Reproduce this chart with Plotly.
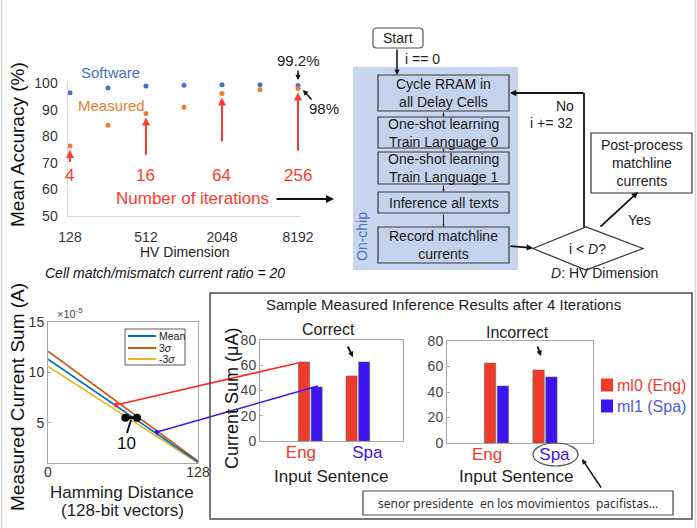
import numpy as np
import plotly.graph_objects as go

W, H = 697, 528
FONT = "Liberation Sans, Arial, sans-serif"

# ---- accuracy vs hypervector dimension ----
hv_dims = [128, 256, 512, 1024, 2048, 4096, 8192]
hv_ticks = [128, 512, 2048, 8192]
software_acc = [96.4, 98.2, 99.0, 99.3, 99.5, 99.5, 99.2]
measured_acc = [76.4, 84.2, 88.6, 91.0, 96.2, 97.6, 98.0]
iter_dims = [128, 512, 2048, 8192]
iter_counts = [4, 16, 64, 256]

# ---- matchline current sum vs Hamming distance ----
hamming = [0, 128]
curr_mean = [11.3, 1.1]
curr_p3s = [12.1, 1.2]
curr_m3s = [10.6, 1.0]
spread_x = [66, 76]
spread_y = [5.5, 5.5]

# ---- inference results after 4 iterations ----
sentences = ["Eng", "Spa"]
correct_ml0 = [62.6, 51.5]
correct_ml1 = [42.8, 62.6]
incorrect_ml0 = [62.7, 57.3]
incorrect_ml1 = [44.7, 51.8]

BLUE_PT = "#4472C4"
ORANGE_PT = "#ED7D31"
RED = "#F03A2A"
VIOLET = "#3D14F0"
ITER_RED = "#FF3B30"


def px(x):
    return x / W


def py(y):
    return 1 - y / H


shapes = []
anns = []


def text(x, y, s, size=14, color="#222", xanchor="center", family=FONT, **kw):
    anns.append(dict(x=px(x), y=py(y), xref="paper", yref="paper", text=s,
                     showarrow=False, xanchor=xanchor, yanchor="middle",
                     font=dict(size=size, color=color, family=family), **kw))


def arrow(x0, y0, x1, y1, color="#111", width=1.5, head=2, size=1.0):
    anns.append(dict(x=px(x1), y=py(y1), xref="paper", yref="paper",
                     ax=x0 - x1, ay=y0 - y1, text="", showarrow=True,
                     arrowhead=head, arrowsize=size, arrowwidth=width,
                     arrowcolor=color))


def line(x0, y0, x1, y1, color="#111", width=1.5):
    shapes.append(dict(type="line", xref="paper", yref="paper",
                       x0=px(x0), y0=py(y0), x1=px(x1), y1=py(y1),
                       line=dict(color=color, width=width)))


def rect(x0, y0, x1, y1, color="#333", width=1.2, fill="rgba(0,0,0,0)",
         layer="above"):
    shapes.append(dict(type="rect", xref="paper", yref="paper",
                       x0=px(x0), y0=py(y0), x1=px(x1), y1=py(y1),
                       line=dict(color=color, width=width), fillcolor=fill,
                       layer=layer))


def dot(x, y, r, color):
    shapes.append(dict(type="circle", xref="paper", yref="paper",
                       x0=px(x - r), y0=py(y + r), x1=px(x + r), y1=py(y - r),
                       line=dict(width=0), fillcolor=color))


def rounded_rect(x0, y0, x1, y1, r, color="#555", width=1.2):
    P = lambda x, y: f"{px(x):.5f},{py(y):.5f}"
    path = (f"M{P(x0 + r, y0)} L{P(x1 - r, y0)} Q{P(x1, y0)} {P(x1, y0 + r)} "
            f"L{P(x1, y1 - r)} Q{P(x1, y1)} {P(x1 - r, y1)} "
            f"L{P(x0 + r, y1)} Q{P(x0, y1)} {P(x0, y1 - r)} "
            f"L{P(x0, y0 + r)} Q{P(x0, y0)} {P(x0 + r, y0)} Z")
    shapes.append(dict(type="path", xref="paper", yref="paper", path=path,
                       line=dict(color=color, width=width),
                       fillcolor="white"))


fig = go.Figure()

# ---------------- top-left: mean accuracy ----------------
fig.add_trace(go.Scatter(x=hv_dims, y=software_acc, mode="markers",
                         marker=dict(color=BLUE_PT, size=5), cliponaxis=False,
                         xaxis="x", yaxis="y", showlegend=False))
fig.add_trace(go.Scatter(x=hv_dims, y=measured_acc, mode="markers",
                         marker=dict(color=ORANGE_PT, size=5), cliponaxis=False,
                         xaxis="x", yaxis="y", showlegend=False))

meas_at = dict(zip(hv_dims, measured_acc))
for d, tail in zip(iter_dims, [69.8, 72.5, 77.5, 74.0]):
    anns.append(dict(x=np.log10(d), y=meas_at[d], xref="x", yref="y",
                     axref="x", ayref="y", ax=np.log10(d), ay=tail, text="",
                     showarrow=True, arrowhead=2, arrowsize=0.8, arrowwidth=2,
                     arrowcolor=ITER_RED, standoff=4))
for d, n in zip(iter_dims, iter_counts):
    anns.append(dict(x=np.log10(d), y=py(175), xref="x", yref="paper",
                     text=str(n), showarrow=False, xanchor="center",
                     yanchor="middle",
                     font=dict(size=17, color=ITER_RED, family=FONT)))

text(192, 198, "Number of iterations", 17, ITER_RED)
arrow(275, 199, 334, 199, "#111", 2, 2, 0.8)
text(111, 72, "Software", 15, BLUE_PT)
text(112, 105, "Measured", 15, ORANGE_PT)
text(298, 60, "99.2%", 15, "#222")
arrow(298, 69, 298, 80, "#111", 1.5, 2, 0.7)
text(324, 109, "98%", 15, "#222")
arrow(313, 101, 303, 90, "#111", 1.5, 2, 0.7)
text(17, 145, "Mean Accuracy (%)", 19, "#111", textangle=-90)
text(184, 252, "HV Dimension", 14, "#222")

# ---------------- flowchart ----------------
rect(353, 67, 518, 270, color="rgba(0,0,0,0)", width=0, fill="#C7D6EE",
     layer="below")
rounded_rect(373, 28, 423, 48, 4)
text(398, 38, "Start", 14)
arrow(397, 48, 397, 75, "#111", 1.5, 2, 0.7)
text(422, 59, "i == 0", 14)

flow_boxes = [
    (75, 111, "Cycle RRAM in<br>all Delay Cells"),
    (117, 148, "One-shot learning<br>Train Language 0"),
    (152, 184, "One-shot learning<br>Train Language 1"),
    (192, 213, "Inference all texts"),
    (227, 263, "Record matchline<br>currents"),
]
for y0, y1, s in flow_boxes:
    rect(378, y0, 509, y1, color="#3A3A3A", width=1.2, fill="#C3D3EC")
    text(443.5, (y0 + y1) / 2, s, 14, "#1a1a1a")
for a, b in zip(flow_boxes[:-1], flow_boxes[1:]):
    arrow(443.5, a[1], 443.5, b[0], "#222", 1, 2, 0.5)
text(362, 237, "On-chip", 14, BLUE_PT, textangle=-90)

# decision diamond
D = dict(l=533, r=643, t=227, b=270, c=586)
shapes.append(dict(type="path", xref="paper", yref="paper",
                   path=(f"M{px(D['l'])},{py(248.5)} L{px(D['c'])},{py(D['t'])} "
                         f"L{px(D['r'])},{py(248.5)} L{px(D['c'])},{py(D['b'])} Z"),
                   line=dict(color="#333", width=1.2)))
text(587, 249, "i &lt; <i>D</i>?", 14)
arrow(509, 246, 533, 248, "#111", 1.8, 2, 0.7)
line(584, 227, 584, 93, "#111", 1.8)
arrow(585, 93, 510, 93, "#111", 1.8, 2, 0.7)
text(565, 106, "No", 14)
text(551, 123, "i += 32", 14)
rect(591, 133, 692, 193, color="#333", width=1.2)
text(641.5, 163, "Post-process<br>matchline<br>currents", 14)
arrow(599, 228, 638, 192, "#111", 1.8, 2, 0.7)
text(639, 220, "Yes", 14)
text(604, 273, "<i>D</i>: HV Dimension", 14)
text(165, 273, "<i>Cell match/mismatch current ratio = 20</i>", 14, "#111")

# ---------------- bottom-left: current sum lines ----------------
for y, c, nm in [(curr_p3s, "#D95319", "3σ"), (curr_m3s, "#EDB120", "-3σ"),
                 (curr_mean, "#0072BD", "Mean")]:
    fig.add_trace(go.Scatter(x=hamming, y=y, mode="lines", name=nm,
                             line=dict(color=c, width=1.6),
                             xaxis="x2", yaxis="y2", showlegend=False))
fig.add_trace(go.Scatter(x=spread_x, y=spread_y, mode="lines+markers",
                         line=dict(color="#000", width=3),
                         marker=dict(color="#000", size=8),
                         xaxis="x2", yaxis="y2", showlegend=False))

# small legend box inside the line chart
rect(125, 329, 185, 365, color="#333", width=0.8, fill="white")
for yy, c, lab in [(336, "#0072BD", "Mean"), (348, "#D95319", "3<i>σ</i>"),
                   (359, "#EDB120", "-3<i>σ</i>")]:
    line(128, yy, 156, yy, c, 2)
    text(157, yy, lab, 10.5, "#222", xanchor="left")

text(70, 313, "×10<sup>-5</sup>", 11, "#444")
text(126, 443, "10", 17, "#111")
line(127, 433, 131, 420, "#111", 2)
text(17, 397, "Measured Current Sum (A)", 19, "#111", textangle=-90)
text(122, 492, "Hamming Distance", 17, "#222")
text(122, 510, "(128-bit vectors)", 17, "#222")

# connectors into the bar chart
line(116, 405, 298, 363, "#FF2A1A", 1.6)
dot(116, 405, 2.2, "#FF2A1A")
line(157, 432, 318, 386, VIOLET, 1.6)
dot(157, 432, 2.2, VIOLET)

# ---------------- bottom-right: inference bar charts ----------------
rect(210, 293, 692, 519, color="#4a4a4a", width=1.5)
text(443, 304, "Sample Measured Inference Results after 4 Iterations", 15,
     "#222")

bar_line = dict(color="#666", width=0.6)
fig.add_trace(go.Bar(x=sentences, y=correct_ml0, marker=dict(color=RED, line=bar_line),
                     xaxis="x3", yaxis="y3", showlegend=False))
fig.add_trace(go.Bar(x=sentences, y=correct_ml1, marker=dict(color=VIOLET, line=bar_line),
                     xaxis="x3", yaxis="y3", showlegend=False))
fig.add_trace(go.Bar(x=sentences, y=incorrect_ml0, marker=dict(color=RED, line=bar_line),
                     xaxis="x4", yaxis="y4", showlegend=False))
fig.add_trace(go.Bar(x=sentences, y=incorrect_ml1, marker=dict(color=VIOLET, line=bar_line),
                     xaxis="x4", yaxis="y4", showlegend=False))

text(232, 398, "Current Sum (μA)", 18, "#111", textangle=-90)
text(331, 476, "Input Sentence", 17, "#222")
text(516, 476, "Input Sentence", 17, "#222")
text(328, 329, "Correct", 16, "#222")
arrow(347, 345, 353, 357, "#111", 1.8, 2, 0.6)
text(517, 332, "Incorrect", 16, "#222")
arrow(537, 345, 541, 356, "#111", 1.8, 2, 0.6)

shapes.append(dict(type="circle", xref="paper", yref="paper",
                   x0=px(533), y0=py(466), x1=px(578), y1=py(443),
                   line=dict(color="#555", width=1.2)))
arrow(602, 489, 582, 459, "#111", 1.5, 2, 0.7)
rect(363, 491, 673, 515, color="#444", width=1.2)
text(518, 503, "senor presidente  en los movimientos  pacifistas...", 12,
     "#333", family="Noto Sans, sans-serif")

# bar legend
for yy, c, lab, tc in [(385, RED, "ml0 (Eng)", RED),
                       (406, VIOLET, "ml1 (Spa)", "#4f5ad8")]:
    rect(601, yy - 6.5, 613, yy + 6.5, color="rgba(0,0,0,0)", width=0, fill=c)
    text(615, yy, lab, 16, tc, xanchor="left")

# page edges
line(1.5, 0, 1.5, 528, "#d6d6d6", 1.5)
line(695.5, 0, 695.5, 528, "#d6d6d6", 1.5)

# ---------------- axes ----------------
tick_font = dict(size=14, color="#333", family=FONT)
box_axis = dict(showline=True, mirror=True, linecolor="#A8A8A8", linewidth=1,
                showgrid=False, zeroline=False, ticks="inside", ticklen=3,
                tickcolor="#A8A8A8", tickfont=tick_font, fixedrange=True,
                automargin=False)

NB = "\u00a0" * 4


def colored(lbl):
    # pad the labels outward so they sit clear of the bar-pair centre
    padded = lbl + NB if lbl == "Eng" else NB + lbl
    return f"<span style='color:{RED if lbl == 'Eng' else VIOLET}'>{padded}</span>"


# log-axis padding (in decades) so the end markers stay inside the range
pad = 0.012
lo, hi = np.log10(128) - pad, np.log10(8192) + pad
ppd = (298 - 70) / (np.log10(8192) - np.log10(128))

cat_axis = dict(type="category", tickvals=sentences,
                ticktext=[colored(s) for s in sentences],
                tickfont=dict(size=17, family=FONT), ticks="",
                tickangle=0, ticklabelstandoff=-4)

fig.update_layout(
    width=W, height=H, autosize=False,
    margin=dict(l=0, r=0, t=0, b=0, pad=0),
    paper_bgcolor="white", plot_bgcolor="rgba(0,0,0,0)",
    font=dict(family=FONT),
    barmode="group", bargap=0.47, bargroupgap=0.12,
    xaxis=dict(domain=[px(70 - pad * ppd), px(298 + pad * ppd)], type="log",
               range=[lo, hi], anchor="y",
               tickvals=hv_ticks, ticktext=[str(v) for v in hv_ticks],
               showline=True, linecolor="#D9D9D9", showgrid=False,
               zeroline=False, ticks="", tickfont=tick_font,
               ticklabelstandoff=8, automargin=False),
    yaxis=dict(domain=[py(216), py(83.3)], range=[50, 100], dtick=10,
               anchor="x", showline=True, linecolor="#D9D9D9",
               showgrid=False, zeroline=False, ticks="", tickfont=tick_font,
               ticklabelstandoff=7, automargin=False),
    xaxis2=dict(box_axis, domain=[px(48), px(198)], range=[0, 128],
                tickvals=[0, 128], anchor="y2", ticklabelstandoff=-4),
    yaxis2=dict(box_axis, domain=[py(463), py(322)], range=[1, 15],
                tickvals=[5, 10, 15], anchor="x2", ticklabelstandoff=0),
    xaxis3=dict(box_axis, **cat_axis, domain=[px(260), px(403)],
                range=[-1.06, 1.95], anchor="y3"),
    yaxis3=dict(box_axis, domain=[py(441), py(340)], range=[0, 80], dtick=20,
                anchor="x3", ticklabelstandoff=0,
                tickfont=dict(size=14, color="#444", family=FONT)),
    xaxis4=dict(box_axis, **cat_axis, domain=[px(447), px(593)],
                range=[-1.02, 1.99], anchor="y4"),
    yaxis4=dict(box_axis, domain=[py(443), py(341)], range=[0, 80], dtick=20,
                anchor="x4", ticklabelstandoff=0,
                tickfont=dict(size=14, color="#444", family=FONT)),
    shapes=shapes,
    annotations=anns,
    showlegend=False,
)

fig.write_html("out.html")
